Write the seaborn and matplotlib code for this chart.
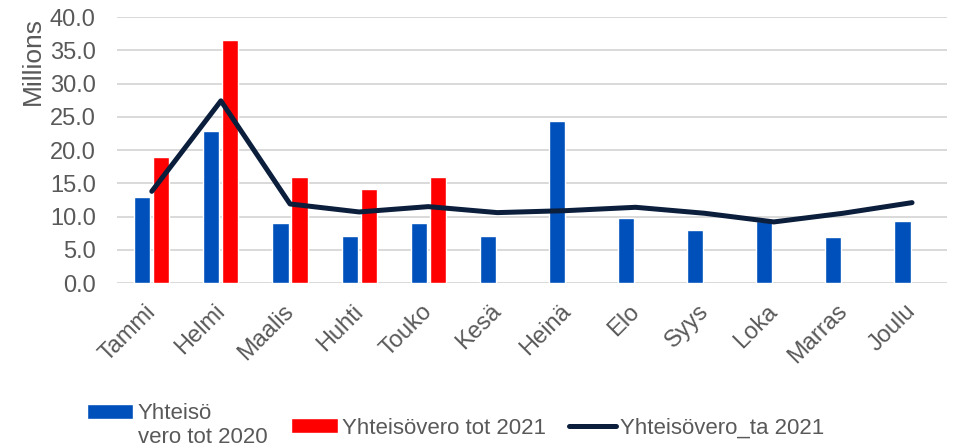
"""Monthly corporate tax revenue: 2020 vs 2021 with budget line."""

import matplotlib

matplotlib.use("Agg")

import matplotlib.pyplot as plt
import numpy as np
import pandas as pd
import seaborn as sns
from matplotlib.ticker import FormatStrFormatter
from matplotlib.transforms import ScaledTranslation

months = ["Tammi", "Helmi", "Maalis", "Huhti", "Touko", "Kesä",
          "Heinä", "Elo", "Syys", "Loka", "Marras", "Joulu"]
tot_2020 = [13.0, 22.9, 9.1, 7.1, 9.1, 7.1, 24.4, 9.8, 8.0, 9.3, 7.0, 9.4]
tot_2021 = [19.0, 36.6, 16.0, 14.2, 15.9, None, None, None, None, None, None, None]
ta_2021 = [13.8, 27.4, 11.9, 10.7, 11.5, 10.6, 10.9, 11.4, 10.5, 9.2, 10.5, 12.1]

label_2020 = "Yhteisö\nvero tot 2020"
label_2021 = "Yhteisövero tot 2021"
label_ta = "Yhteisövero_ta 2021"

sns.set_theme(style="white")
plt.rcParams["font.family"] = ["Liberation Sans", "DejaVu Sans"]

bars = pd.DataFrame({
    "month": months * 2,
    "value": tot_2020 + tot_2021,
    "series": [label_2020] * len(months) + [label_2021] * len(months),
})

fig = plt.figure(figsize=(9.61, 4.48), dpi=100)
ax = fig.add_axes([0.122, 0.368, 0.863, 0.594])

sns.barplot(
    data=bars, x="month", y="value", hue="series",
    palette={label_2020: "#0050BC", label_2021: "#FF0000"},
    width=0.55, gap=0.15, saturation=1, ax=ax, legend=True,
)
sns.lineplot(
    x=np.arange(len(months)), y=ta_2021, color="#0B1E3C",
    linewidth=3.6, ax=ax, label=label_ta, solid_capstyle="round",
)

ax.set_ylim(0, 40)
ax.set_xlim(-0.5, len(months) - 0.5)
ax.set_yticks(np.arange(0, 40.1, 5))
ax.yaxis.set_major_formatter(FormatStrFormatter("%.1f"))
ax.grid(axis="y", color="#d9d9d9", linewidth=1.4)
ax.set_axisbelow(True)
for spine in ax.spines.values():
    spine.set_visible(False)
ax.tick_params(axis="both", length=0, labelsize=17, colors="#595959")
ax.tick_params(axis="y", pad=15.5)
ax.tick_params(axis="x", pad=6)
shift = ScaledTranslation(-0.07, -0.09, fig.dpi_scale_trans)
for tick_label in ax.get_xticklabels():
    tick_label.set_rotation(45)
    tick_label.set_ha("right")
    tick_label.set_rotation_mode("anchor")
    tick_label.set_transform(tick_label.get_transform() + shift)
ax.set_xlabel("")
ax.set_ylabel("Millions", fontsize=19, color="#595959", loc="top")
ax.yaxis.set_label_coords(-0.087, 1.0)

handles, labels = ax.get_legend_handles_labels()
ax.get_legend().remove()
leg = fig.legend(
    handles, labels, ncol=3, loc="lower left", bbox_to_anchor=(0.0695, -0.045),
    frameon=False, fontsize=16, labelcolor="#595959", handlelength=2.1,
    handleheight=0.65, handletextpad=0.2, columnspacing=1.05,
)
for line in leg.get_lines():
    line.set_solid_capstyle("round")
# the two-line entry keeps its patch next to the first line, as in the original
blue_patch = leg.legend_handles[0]
blue_patch.set_y(blue_patch.get_y() + 10)

fig.savefig("out.png", dpi=100)
